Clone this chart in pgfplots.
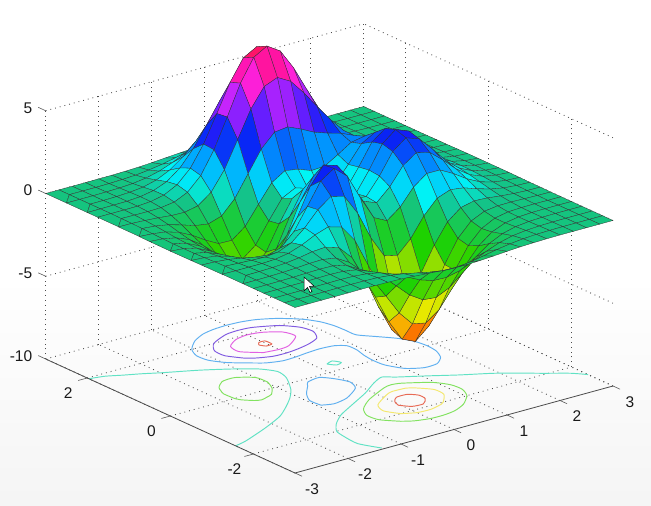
\documentclass[border=0pt]{standalone}
\usepackage{pgfplots}
\usepackage{fontspec}
\setmainfont{Liberation Sans}
\pgfplotsset{compat=1.18}
\begin{document}
\begin{tikzpicture}[x=1pt,y=1pt]
\path[use as bounding box] (0,0) rectangle (651,506);
\shade[top color=white,bottom color=black!4,draw=none] (0,0) rectangle (651,230);
\begin{axis}[
  at={(329.35pt,299pt)},anchor=origin,
  x={(53pt,14.5pt)},y={(-41.55pt,19pt)},z={(0pt,16.55pt)},
  xmin=-3,xmax=3,ymin=-3,ymax=3,zmin=-10,zmax=5,
  xtick={-3,-2,-1,0,1,2,3},ytick={-2,0,2},ztick={-10,-5,0,5},
  clip=false,
  grid=major,
  grid style={black!70,line width=0.85pt,dash pattern=on 0.85pt off 4pt},
  axis line style={draw=none},
  major tick length=0pt,
  /pgf/number format/assume math mode=true,
  tick label style={font=\fontsize{15.5}{16}\selectfont,black!90},
  xticklabel style={anchor=center,xshift=17pt,yshift=-16pt},
  yticklabel style={anchor=center,xshift=-19pt,yshift=-15pt},
  zticklabel style={anchor=east,xshift=-10pt,yshift=3pt},
  colormap={mhsv}{rgb255=(255,30,0) rgb255=(253,81,0) rgb255=(250,132,0) rgb255=(248,184,0)
    rgb255=(245,235,0) rgb255=(191,229,0) rgb255=(138,222,0) rgb255=(84,216,0)
    rgb255=(30,210,0) rgb255=(27,205,47) rgb255=(23,200,93) rgb255=(20,195,140)
    rgb255=(0,245,245) rgb255=(0,202,250) rgb255=(0,160,255) rgb255=(5,95,250)
    rgb255=(10,30,245) rgb255=(60,30,250) rgb255=(110,30,255) rgb255=(180,35,252)
    rgb255=(250,40,250) rgb255=(252,30,210) rgb255=(255,20,170) rgb255=(255,20,115)
    rgb255=(255,20,60)},
  point meta min=-6.55,point meta max=8.1,
]
% contour lines on the floor, z=-10
\addplot3[no markers,smooth,tension=0.4,line width=0.95pt,color={rgb,255:red,232;green,106;blue,85}] coordinates {(-.121,1.54,-10)(-.06,1.62,-10)(.054,1.62,-10)(.058,1.46,-10)(-.063,1.44,-10)(-.121,1.54,-10)};
\addplot3[no markers,smooth,tension=0.4,line width=0.95pt,color={rgb,255:red,226;green,96;blue,226}] coordinates {(-.263,1.25,-10)(0,1.214,-10)(.217,1.25,-10)(.541,1.5,-10)(.498,1.75,-10)(.25,1.926,-10)(0,1.98,-10)(-.25,1.928,-10)(-.492,1.75,-10)(-.527,1.5,-10)(-.263,1.25,-10)};
\addplot3[no markers,smooth,tension=0.4,line width=0.95pt,color={rgb,255:red,128;green,90;blue,225}] coordinates {(-.641,1.25,-10)(-.5,1.142,-10)(-.25,1.042,-10)(0,1.029,-10)(.25,1.063,-10)(.5,1.128,-10)(.743,1.25,-10)(.872,1.5,-10)(.826,1.75,-10)(.619,2,-10)(.25,2.18,-10)(0,2.21,-10)(-.25,2.18,-10)(-.612,2,-10)(-.795,1.75,-10)(-.803,1.5,-10)(-.641,1.25,-10)};
\addplot3[no markers,smooth,tension=0.4,line width=0.95pt,color={rgb,255:red,96;green,176;blue,240}] coordinates {(0,2.484,-10)(.25,2.465,-10)(.5,2.403,-10)(.781,2.25,-10)(1.057,2,-10)(1.203,1.75,-10)(1.265,1.5,-10)(1.28,1.25,-10)(1.29,1,-10)(1.492,.75,-10)(1.694,.5,-10)(1.811,.25,-10)(1.846,0,-10)(1.819,-.25,-10)(1.706,-.5,-10)(1.5,-.679,-10)(1.25,-.696,-10)(1,-.549,-10)(.849,-.25,-10)(.828,0,-10)(.853,.25,-10)(.909,.5,-10)(.9,.72,-10)(.75,.837,-10)(.5,.868,-10)(.25,.849,-10)(0,.814,-10)(-.25,.805,-10)(-.5,.887,-10)(-.654,1,-10)(-.952,1.25,-10)(-1.114,1.5,-10)(-1.135,1.75,-10)(-1.027,2,-10)(-.773,2.25,-10)(-.5,2.403,-10)(-.25,2.465,-10)(0,2.484,-10)};
\addplot3[no markers,smooth,tension=0.4,line width=0.95pt,color={rgb,255:red,96;green,176;blue,240}] coordinates {(-.941,-1,-10)(-.75,-1.072,-10)(-.455,-1,-10)(-.097,-.75,-10)(0,-.5,-10)(-.1,-.25,-10)(-.25,-.071,-10)(-.5,-.12,-10)(-.605,-.25,-10)(-.822,-.5,-10)(-.958,-.75,-10)(-.941,-1,-10)};
\addplot3[no markers,smooth,tension=0.4,line width=0.95pt,color={rgb,255:red,96;green,226;blue,196}] coordinates {(.19,.30,-10)(.33,.355,-10)(.40,.225,-10)(.28,.18,-10)(.19,.30,-10)};
\addplot3[no markers,smooth,tension=0.4,line width=0.95pt,color={rgb,255:red,96;green,226;blue,196}] coordinates {(-3,1.96,-10)(-2.75,1.9,-10)(-2.5,1.77,-10)(-2.25,1.65,-10)(-1.98,1.5,-10)(-1.48,1.25,-10)(-1.07,1,-10)(-.74,.75,-10)(-.585,.5,-10)(-.628,.25,-10)(-.76,0,-10)(-.92,-.25,-10)(-1.14,-.5,-10)(-1.41,-.75,-10)(-1.72,-1,-10)(-2.19,-1.25,-10)(-2.75,-1.5,-10)(-3,-1.57,-10)};
\addplot3[no markers,smooth,tension=0.4,line width=0.95pt,color={rgb,255:red,96;green,226;blue,196}] coordinates {(-1.33,-2.96,-10)(-1.5,-2.6,-10)(-1.48,-2.25,-10)(-1.43,-2,-10)(-1.24,-1.75,-10)(-.955,-1.5,-10)(-.534,-1.25,-10)(-.105,-1,-10)(.25,-.75,-10)(.5,-.622,-10)(.668,-.75,-10)(1.079,-1,-10)(1.469,-1.25,-10)(1.91,-1.5,-10)(2.25,-1.75,-10)(2.5,-1.95,-10)(2.83,-2.2,-10)(3,-2.4,-10)};
\addplot3[no markers,smooth,tension=0.4,line width=0.95pt,color={rgb,255:red,130;green,226;blue,96}] coordinates {(-1.79,0,-10)(-1.75,-.10,-10)(-1.605,-.25,-10)(-1.5,-.29,-10)(-1.375,-.25,-10)(-1.25,-.20,-10)(-1.08,0,-10)(-1,.175,-10)(-.975,.25,-10)(-1,.5,-10)(-1.25,.686,-10)(-1.5,.668,-10)(-1.69,.5,-10)(-1.75,.38,-10)(-1.80,.25,-10)(-1.79,0,-10)};
\addplot3[no markers,smooth,tension=0.4,line width=0.95pt,color={rgb,255:red,130;green,226;blue,96}] coordinates {(-.416,-2.25,-10)(-.25,-2.356,-10)(0,-2.426,-10)(.25,-2.433,-10)(.5,-2.387,-10)(.767,-2.25,-10)(1.026,-2,-10)(1.136,-1.75,-10)(1.117,-1.5,-10)(.956,-1.25,-10)(.57,-1,-10)(.4,-.96,-10)(.246,-1,-10)(-.229,-1.25,-10)(-.531,-1.5,-10)(-.664,-1.75,-10)(-.634,-2,-10)(-.416,-2.25,-10)};
\addplot3[no markers,smooth,tension=0.4,line width=0.95pt,color={rgb,255:red,244;green,232;blue,110}] coordinates {(-.216,-2,-10)(0,-2.11,-10)(.25,-2.127,-10)(.5,-2.054,-10)(.581,-2,-10)(.789,-1.75,-10)(.798,-1.5,-10)(.585,-1.25,-10)(.5,-1.204,-10)(.25,-1.19,-10)(.1,-1.25,-10)(-.26,-1.5,-10)(-.353,-1.75,-10)(-.216,-2,-10)};
\addplot3[no markers,smooth,tension=0.4,line width=0.95pt,color={rgb,255:red,232;green,106;blue,85}] coordinates {(-.03,-1.7,-10)(.1,-1.86,-10)(.3,-1.88,-10)(.46,-1.72,-10)(.47,-1.55,-10)(.35,-1.42,-10)(.15,-1.42,-10)(.02,-1.55,-10)(-.03,-1.7,-10)};
% surface: 25 x 25 grid, x and y from -3 to 3 in steps of 0.25, one row per y
\addplot3[surf,shader=faceted,faceted color=black!80,line width=0.3pt,mesh/cols=25,mesh/ordering=x varies,z buffer=sort,point meta=z]
 table[row sep=crcr,x expr={-3+0.25*mod(\coordindex,25)},y expr={-3+0.25*floor(\coordindex/25)},z=z]{
z\\
0\\0\\0\\0\\0\\.01\\0\\-.01\\-.03\\-.08\\-.14\\-.2\\-.25\\-.25\\-.22\\-.17\\-.11\\-.06\\-.03\\-.01\\0\\0\\0\\0\\0\\
0\\0\\0\\0\\.01\\.01\\0\\-.02\\-.1\\-.22\\-.39\\-.56\\-.68\\-.69\\-.61\\-.46\\-.3\\-.17\\-.08\\-.03\\-.01\\0\\0\\0\\0\\
0\\0\\0\\.01\\.01\\.02\\0\\-.07\\-.23\\-.53\\-.91\\-1.31\\-1.57\\-1.6\\-1.41\\-1.06\\-.69\\-.38\\-.18\\-.08\\-.03\\-.01\\0\\0\\0\\
0\\0\\.01\\.01\\.03\\.04\\.01\\-.12\\-.44\\-.99\\-1.74\\-2.51\\-3.02\\-3.1\\-2.72\\-2.05\\-1.32\\-.73\\-.35\\-.14\\-.05\\-.01\\0\\0\\0\\
0\\0\\.01\\.02\\.05\\.07\\.05\\-.13\\-.59\\-1.45\\-2.64\\-3.88\\-4.76\\-4.93\\-4.35\\-3.27\\-2.1\\-1.15\\-.53\\-.2\\-.06\\-.01\\0\\0\\0\\
0\\0\\.01\\.03\\.07\\.13\\.15\\.02\\-.46\\-1.48\\-3\\-4.7\\-5.97\\-6.33\\-5.64\\-4.24\\-2.69\\-1.42\\-.61\\-.2\\-.04\\0\\.01\\0\\0\\
0\\0\\.01\\.03\\.08\\.18\\.33\\.39\\.15\\-.68\\-2.19\\-4.08\\-5.68\\-6.33\\-5.76\\-4.32\\-2.64\\-1.27\\-.44\\-.07\\.04\\.05\\.03\\.01\\0\\
0\\-.01\\-.01\\-.01\\.03\\.17\\.45\\.84\\1.11\\.88\\-.14\\-1.85\\-3.6\\-4.6\\-4.4\\-3.22\\-1.74\\-.56\\.08\\.27\\.23\\.13\\.06\\.02\\.01\\
-.01\\-.02\\-.06\\-.1\\-.13\\-.04\\.3\\.98\\1.86\\2.45\\2.22\\.99\\-.72\\-2.02\\-2.22\\-1.43\\-.27\\.58\\.88\\.77\\.5\\.26\\.11\\.04\\.01\\
-.02\\-.05\\-.12\\-.26\\-.42\\-.51\\-.28\\.49\\1.78\\3.09\\3.63\\2.94\\1.4\\0\\-.41\\.2\\1.18\\1.79\\1.78\\1.35\\.82\\.41\\.18\\.06\\.02\\
-.03\\-.08\\-.2\\-.44\\-.8\\-1.16\\-1.21\\-.6\\.8\\2.49\\3.55\\3.3\\2\\.7\\.39\\1.14\\2.2\\2.76\\2.56\\1.88\\1.12\\.56\\.24\\.09\\.03\\
-.03\\-.1\\-.27\\-.6\\-1.14\\-1.78\\-2.16\\-1.84\\-.57\\1.23\\2.56\\2.63\\1.58\\.53\\.48\\1.5\\2.76\\3.37\\3.09\\2.25\\1.34\\.67\\.28\\.1\\.03\\
-.04\\-.11\\-.3\\-.69\\-1.33\\-2.14\\-2.77\\-2.71\\-1.65\\.06\\1.48\\1.75\\.98\\.19\\.37\\1.57\\2.94\\3.58\\3.27\\2.37\\1.41\\.7\\.3\\.11\\.03\\
-.04\\-.11\\-.29\\-.67\\-1.32\\-2.16\\-2.87\\-2.98\\-2.15\\-.65\\.68\\1.06\\.52\\-.03\\.28\\1.47\\2.76\\3.36\\3.06\\2.22\\1.32\\.66\\.28\\.1\\.03\\
-.03\\-.09\\-.25\\-.57\\-1.12\\-1.85\\-2.49\\-2.64\\-2\\-.76\\.39\\.8\\.46\\.09\\.38\\1.34\\2.38\\2.83\\2.56\\1.84\\1.09\\.54\\.23\\.08\\.03\\
-.02\\-.07\\-.18\\-.42\\-.82\\-1.33\\-1.76\\-1.78\\-1.16\\-.05\\1.04\\1.55\\1.42\\1.12\\1.17\\1.65\\2.17\\2.32\\1.99\\1.4\\.82\\.4\\.17\\.06\\.02\\
-.01\\-.04\\-.11\\-.25\\-.48\\-.74\\-.86\\-.6\\.23\\1.51\\2.79\\3.59\\3.69\\3.34\\2.93\\2.66\\2.43\\2.08\\1.58\\1.04\\.58\\.28\\.11\\.04\\.01\\
-.01\\-.02\\-.06\\-.12\\-.2\\-.22\\-.05\\.55\\1.69\\3.29\\4.92\\6.06\\6.39\\5.94\\5.02\\3.97\\2.97\\2.09\\1.35\\.79\\.41\\.19\\.07\\.03\\.01\\
0\\-.01\\-.02\\-.03\\-.01\\.11\\.48\\1.27\\2.61\\4.37\\6.2\\7.54\\8\\7.48\\6.25\\4.72\\3.25\\2.05\\1.19\\.62\\.29\\.12\\.05\\.02\\0\\
0\\0\\0\\.01\\.07\\.24\\.65\\1.43\\2.67\\4.29\\5.96\\7.22\\7.67\\7.19\\5.99\\4.45\\2.96\\1.78\\.96\\.47\\.21\\.08\\.03\\.01\\0\\
0\\0\\.01\\.02\\.08\\.23\\.55\\1.16\\2.1\\3.31\\4.56\\5.51\\5.86\\5.5\\4.57\\3.37\\2.21\\1.29\\.68\\.32\\.13\\.05\\.02\\0\\0\\
0\\0\\0\\.02\\.06\\.15\\.36\\.74\\1.32\\2.07\\2.84\\3.43\\3.65\\3.43\\2.84\\2.09\\1.36\\.79\\.41\\.19\\.08\\.03\\.01\\0\\0\\
0\\0\\0\\.01\\.03\\.08\\.19\\.39\\.69\\1.07\\1.47\\1.77\\1.89\\1.77\\1.47\\1.08\\.7\\.4\\.2\\.09\\.04\\.01\\0\\0\\0\\
0\\0\\0\\0\\.01\\.04\\.08\\.17\\.3\\.47\\.64\\.77\\.82\\.77\\.64\\.47\\.3\\.17\\.09\\.04\\.02\\.01\\0\\0\\0\\
0\\0\\0\\0\\.01\\.01\\.03\\.06\\.11\\.17\\.23\\.28\\.3\\.28\\.23\\.17\\.11\\.06\\.03\\.01\\.01\\0\\0\\0\\0\\
};
% visible axis edges and tick marks
\draw[black!70,line width=0.8pt] (axis cs:-3,3,-10)--(axis cs:-3,-3,-10)--(axis cs:3,-3,-10);
\draw[black!65,line width=0.6pt]
 (axis cs:-3,-3,-10)--(axis cs:-3,-3.17,-10) (axis cs:-2,-3,-10)--(axis cs:-2,-3.17,-10)
 (axis cs:-1,-3,-10)--(axis cs:-1,-3.17,-10) (axis cs:0,-3,-10)--(axis cs:0,-3.17,-10)
 (axis cs:1,-3,-10)--(axis cs:1,-3.17,-10) (axis cs:2,-3,-10)--(axis cs:2,-3.17,-10)
 (axis cs:3,-3,-10)--(axis cs:3,-3.17,-10)
 (axis cs:-3,-2,-10)--(axis cs:-3.17,-2,-10) (axis cs:-3,0,-10)--(axis cs:-3.17,0,-10)
 (axis cs:-3,2,-10)--(axis cs:-3.17,2,-10) (axis cs:-3,3,-10)--(axis cs:-3,3.18,-10)
 (axis cs:-3,3,-5)--(axis cs:-3,3.18,-5) (axis cs:-3,3,0)--(axis cs:-3,3.18,0)
 (axis cs:-3,3,5)--(axis cs:-3,3.18,5);
\end{axis}
% mouse pointer
\filldraw[fill=white,draw=black,line width=0.5pt] (304,229)--(304,215)--(307.5,218.5)--(310,213.5)--(312,214.5)--(309.5,219.5)--(314,220)--cycle;
\end{tikzpicture}
\end{document}
